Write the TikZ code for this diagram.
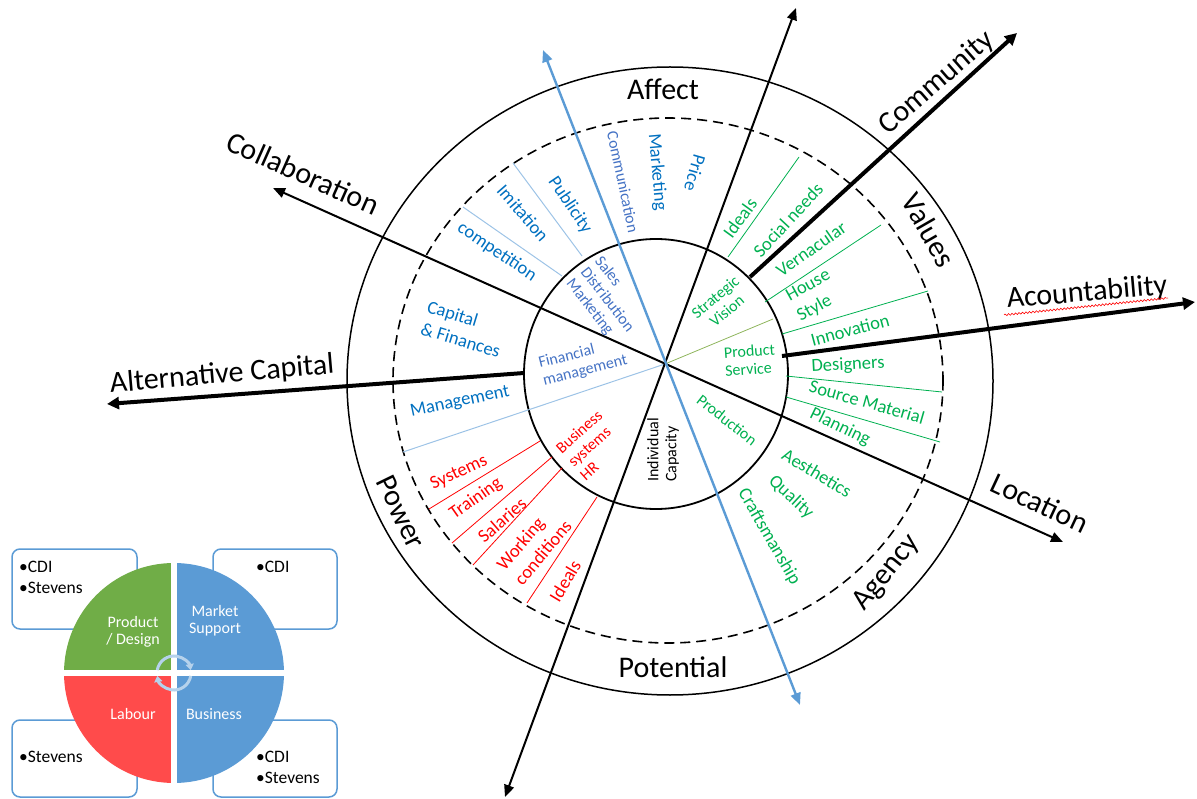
\documentclass[tikz,border=0pt]{standalone}
\usepackage{fontspec}
\setmainfont{Carlito}
\usetikzlibrary{arrows.meta,decorations.pathmorphing,calc}
\definecolor{tblue}{HTML}{0070C0}
\definecolor{pblue}{HTML}{4472C4}
\definecolor{tgreen}{HTML}{00B050}
\definecolor{tred}{HTML}{FF0000}
\definecolor{lblue}{HTML}{5B9BD5}
\definecolor{spokeblue}{HTML}{9DC3E6}
\definecolor{spokeolive}{HTML}{8DB45A}
\definecolor{piegreen}{HTML}{70AD47}
\definecolor{piered}{HTML}{FF4B4B}
\begin{document}
\begin{tikzpicture}[x=1pt,y=-1pt,
  big/.style={font=\fontsize{30}{33}\selectfont, inner sep=0pt},
  mid/.style={font=\fontsize{18.5}{23}\selectfont, inner sep=0pt, align=left},
  sm/.style={font=\fontsize{16}{18}\selectfont, inner sep=0pt, align=left},
  leg/.style={font=\fontsize{16}{17}\selectfont, inner sep=0pt, align=center, text=white},
  boxtxt/.style={font=\fontsize{17.5}{21}\selectfont, inner sep=0pt, anchor=west, align=left},
  axisline/.style={line width=2pt, {Triangle[length=12pt,width=10pt]}-{Triangle[length=12pt,width=10pt]}},
  thickarrow/.style={line width=4pt, -{Triangle[length=12pt,width=12pt]}},
  spokeB/.style={spokeblue, line width=1pt},
  spokeG/.style={tgreen, line width=0.8pt},
  spokeR/.style={tred, line width=0.8pt},
  lbox/.style={draw=lblue, line width=1.5pt, rounded corners=8pt, fill=white}]
\useasboundingbox (0,0) rectangle (1197,799);

% ---------- circles ----------
\draw[line width=1.5pt] (670,381) ellipse [x radius=323, y radius=314];
\draw[line width=1.6pt, dash pattern=on 10pt off 6pt] (668,380.5) ellipse [x radius=275, y radius=262.5];
\draw[line width=1.8pt] (656,374) ellipse [x radius=132, y radius=135];

% ---------- coordinates ----------
\coordinate (C) at (665,364);
\coordinate (bT) at (543,50);   \coordinate (bB) at (800,705);
\coordinate (kT) at (796,8);    \coordinate (kB) at (505,797);
\coordinate (cL) at (273,188);  \coordinate (cR) at (1063,542);
\coordinate (comS) at (750,277); \coordinate (comE) at (1017,33);
\coordinate (accS) at (782,356); \coordinate (accE) at (1195,302);
\coordinate (altS) at (524,373); \coordinate (altE) at (107,404);

% ---------- spokes ----------
\draw[spokeB] (562,276) -- (463,207);
\draw[spokeB] (582,256) -- (513,163);
\draw[spokeB] (C) -- (403,452);
\draw[spokeG] (728,257) -- (799,157);
\draw[spokeG] (765,302) -- (881,225);
\draw[spokeG] (782,334) -- (928,291);
\draw[spokeG] (786,376) -- (942,392);
\draw[spokeG] (786,397) -- (940,442);
\draw[spokeolive, line width=0.8pt] (C) -- (773,319);
\draw[spokeR] (540,441) -- (429,509);
\draw[spokeR] (552,457) -- (452,543);
\draw[spokeR] (562,468) -- (473,565);
\draw[spokeR] (597,497) -- (527,603);

% ---------- axes ----------
\draw[axisline] (cL) -- (cR);
\draw[axisline] (kT) -- (kB);
\draw[axisline, lblue, line width=2.4pt] (bT) -- (bB);
\draw[thickarrow] (comS) -- (comE);
\draw[thickarrow] (accS) -- (accE);
\draw[thickarrow] (altS) -- (altE);

% ---------- big labels ----------
\node[big] (affect) at (663,89) {Affect};
\node[big] (potential) at (673,667) {Potential};
\node[big, rotate=-60] (values) at (929,230) {Values};
\node[big, rotate=51] (agency) at (887,573) {Agency};
\node[big, rotate=-64] (power) at (401,512) {Power};
\node[big, rotate=41] (community) at (937,83) {Community};
\node[big, rotate=5] (acount) at (1087,293) {Acountability};
\node[big, rotate=-25] (location) at (1040,503) {Location};
\node[big, rotate=-24] (collab) at (303,173) {Collaboration};
\node[big, rotate=5] (altcap) at (222,375) {Alternative Capital};
\coordinate (sqA) at (1004,315);
\coordinate (sqB) at (1168,298);
\draw[tred, line width=0.6pt, decorate, decoration={snake, amplitude=0.9pt, segment length=3.5pt}] (sqA) -- (sqB);

% ---------- blue labels ----------
\node[mid, text=tblue, rotate=-34] (competition) at (497,252) {competition};
\node[mid, text=tblue, rotate=-49] (imitation) at (523,213) {Imitation};
\node[mid, text=tblue, rotate=-56] (publicity) at (570,205) {Publicity};
\node[mid, text=tblue, rotate=-85] (marketing) at (657,172) {Marketing};
\node[mid, text=tblue, rotate=-106] (price) at (695,173) {Price};
\node[mid, text=tblue, rotate=-17] (capital) at (464,329) {Capital\\\& Finances};
\node[mid, text=tblue, rotate=12] (management) at (460,402) {Management};
\node[sm, text=pblue, rotate=-78] (communication) at (623,182) {Communication};
\node[sm, text=pblue, rotate=-52] (sales) at (607,300) {Sales\\Distribution\\Marketing};
\node[sm, text=pblue, rotate=14] (financial) at (583,362) {Financial\\management};

% ---------- green labels ----------
\node[sm, text=tgreen, rotate=40, align=center] (strategic) at (721,304) {Strategic\\Vision};
\node[sm, text=tgreen, rotate=4] (product) at (750,360) {Product\\Service};
\node[sm, text=tgreen, rotate=-38] (production) at (727,420) {Production};
\node[mid, text=tgreen, rotate=54] (idealsG) at (740,218) {Ideals};
\node[mid, text=tgreen, rotate=47] (social) at (788,220) {Social needs};
\node[mid, text=tgreen, rotate=35] (vernacular) at (811,249) {Vernacular};
\node[mid, text=tgreen, rotate=29] (house) at (814,296) {House\\Style};
\node[mid, text=tgreen, rotate=15] (innovation) at (850,330) {Innovation};
\node[mid, text=tgreen, rotate=3] (designers) at (848,365) {Designers};
\node[mid, text=tgreen, rotate=-16] (source) at (867,402) {Source Material};
\node[mid, text=tgreen, rotate=-26] (planning) at (840,427) {Planning};
\node[mid, text=tgreen, rotate=-31] (aesthetics) at (817,473) {Aesthetics};
\node[mid, text=tgreen, rotate=-43] (quality) at (791,497) {Quality};
\node[mid, text=tgreen, rotate=-60] (crafts) at (769,537) {Craftsmanship};

% ---------- red / black labels ----------
\node[sm, rotate=90] (individual) at (663,450) {Individual\\Capacity};
\node[sm, text=tred, rotate=42] (business) at (591,445) {Business\\systems\\HR};
\node[mid, text=tred, rotate=25] (systems) at (459,473) {Systems};
\node[mid, text=tred, rotate=35] (training) at (476,499) {Training};
\node[mid, text=tred, rotate=41] (salaries) at (502,520) {Salaries};
\node[mid, text=tred, rotate=50] (working) at (534,545) {Working\\conditions};
\node[mid, text=tred, rotate=59] (idealsR) at (565,581) {Ideals};

% ---------- legend ----------
\draw[lbox] (12,549) rectangle (137,629);
\draw[lbox] (213,549) rectangle (337,629);
\draw[lbox] (12,720) rectangle (137,797);
\draw[lbox] (213,720) rectangle (337,797);
\node[boxtxt] (b1) at (19,577) {•CDI\\•Stevens};
\node[boxtxt] (b2) at (256,567) {•CDI};
\node[boxtxt] (b3) at (19,757) {•Stevens};
\node[boxtxt] (b4) at (256,767) {•CDI\\•Stevens};

\coordinate (L) at (174,673);
\fill[piegreen] (L) -- +(-110,0) arc[start angle=180, end angle=270, radius=110] -- cycle;
\fill[lblue] (L) -- +(0,-110) arc[start angle=270, end angle=360, radius=110] -- cycle;
\fill[lblue] (L) -- +(110,0) arc[start angle=0, end angle=90, radius=110] -- cycle;
\fill[piered] (L) -- +(0,110) arc[start angle=90, end angle=180, radius=110] -- cycle;
\draw[white, line width=6pt] ($(L)+(-112,0)$) -- ($(L)+(112,0)$);
\draw[white, line width=6pt] ($(L)+(0,-112)$) -- ($(L)+(0,112)$);
\draw[lblue!45, line width=3pt, -{Triangle[length=6pt,width=8pt]}] ($(L)+(190:17)$) arc[start angle=190, end angle=350, radius=17];
\draw[lblue!45, line width=3pt, -{Triangle[length=6pt,width=8pt]}] ($(L)+(10:17)$) arc[start angle=10, end angle=170, radius=17];
\node[leg] (pd) at (133,632) {Product\\/ Design};
\node[leg] (ms) at (215,621) {Market\\Support};
\node[leg] (lab) at (133,714) {Labour};
\node[leg] (bus) at (214,714) {Business};
\end{tikzpicture}
\end{document}
